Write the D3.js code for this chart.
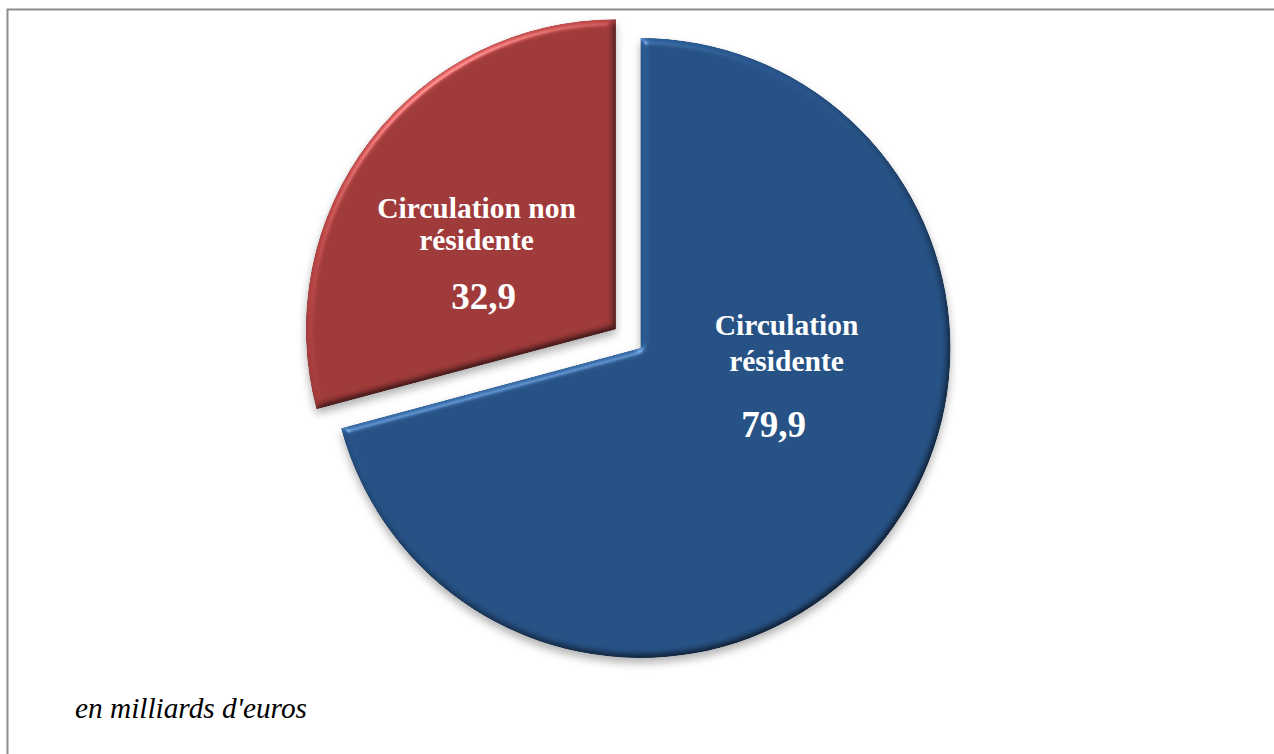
<!DOCTYPE html>
<html>
<head>
<meta charset="utf-8">
<script src="https://cdn.jsdelivr.net/npm/d3@7/dist/d3.min.js"></script>
<style>
  html, body { margin: 0; padding: 0; background: #fff; }
  svg { display: block; }
</style>
</head>
<body>
<svg id="chart" width="1274" height="754"></svg>
<script>
// ---- Data ----
const categories = ["Circulation résidente", "Circulation non résidente"];
const labelLines = [["Circulation", "résidente"], ["Circulation non", "résidente"]];
const values = [79.9, 32.9];
const valueLabels = ["79,9", "32,9"];
const colors = ["#265184", "#9F3A3A"];
const exploded = [false, true];
const note = "en milliards d'euros";

// ---- Layout ----
const W = 1274, H = 754;
const cx = 640.5, cy = 348, R = 310, explode = 31;

const svg = d3.select("#chart");
const defs = svg.append("defs");

// bevel + shadow filter
const f = defs.append("filter").attr("id", "bevel")
  .attr("x", "-10%").attr("y", "-10%").attr("width", "120%").attr("height", "125%")
  .attr("color-interpolation-filters", "sRGB");
f.append("feGaussianBlur").attr("in", "SourceAlpha").attr("stdDeviation", 3.5).attr("result", "blur");
const dl = f.append("feDiffuseLighting").attr("in", "blur").attr("surfaceScale", 3)
  .attr("diffuseConstant", 1).attr("lighting-color", "#fff").attr("result", "diff");
dl.append("feDistantLight").attr("azimuth", 235).attr("elevation", 55);
f.append("feComposite").attr("in", "SourceGraphic").attr("in2", "diff")
  .attr("operator", "arithmetic").attr("k1", 1.22).attr("k2", 0).attr("k3", 0).attr("k4", 0).attr("result", "lit");
const sp = f.append("feSpecularLighting").attr("in", "blur").attr("surfaceScale", 5)
  .attr("specularConstant", 0.6).attr("specularExponent", 30).attr("lighting-color", "#fff").attr("result", "spec");
sp.append("feDistantLight").attr("azimuth", 235).attr("elevation", 30);
f.append("feComposite").attr("in", "spec").attr("in2", "SourceAlpha").attr("operator", "in").attr("result", "specIn");
f.append("feComposite").attr("in", "lit").attr("in2", "specIn")
  .attr("operator", "arithmetic").attr("k1", 0).attr("k2", 1).attr("k3", 0.5).attr("k4", 0).attr("result", "bev");
f.append("feComposite").attr("in", "bev").attr("in2", "SourceAlpha").attr("operator", "in").attr("result", "bevIn");
f.append("feGaussianBlur").attr("in", "SourceAlpha").attr("stdDeviation", 4).attr("result", "sblur");
f.append("feOffset").attr("in", "sblur").attr("dx", 0).attr("dy", 5).attr("result", "soff");
f.append("feFlood").attr("flood-color", "#000").attr("flood-opacity", 0.3).attr("result", "scol");
f.append("feComposite").attr("in", "scol").attr("in2", "soff").attr("operator", "in").attr("result", "shadow");
const m = f.append("feMerge");
m.append("feMergeNode").attr("in", "shadow");
m.append("feMergeNode").attr("in", "bevIn");

// border
svg.append("rect").attr("x", 7.5).attr("y", 9.5).attr("width", 1400).attr("height", 900)
  .attr("fill", "none").attr("stroke", "#8c8c8c").attr("stroke-width", 2);

const pie = d3.pie().sort(null).value(d => d)(values);
const arc = d3.arc().innerRadius(0).outerRadius(R);

const g = svg.append("g").attr("transform", `translate(${cx},${cy})`);

const slices = g.selectAll("g.slice").data(pie).enter().append("g")
  .attr("class", "slice")
  .attr("transform", (d, i) => {
    if (!exploded[i]) return null;
    const a = (d.startAngle + d.endAngle) / 2;
    return `translate(${Math.sin(a) * explode},${-Math.cos(a) * explode})`;
  });

slices.append("path")
  .attr("d", arc)
  .attr("fill", (d, i) => colors[i])
  .attr("filter", "url(#bevel)");

// labels (positions relative to pie center)
const labelPos = [
  { x: 146, y: -13, lh: 36, vx: 133, vy: 89 },
  { x: -164, y: -130, lh: 32, vx: -157, vy: -39 }
];
slices.each(function (d, i) {
  const s = d3.select(this);
  const off = exploded[i] ? (() => { const a = (d.startAngle + d.endAngle) / 2; return [Math.sin(a) * explode, -Math.cos(a) * explode]; })() : [0, 0];
  const p = labelPos[i];
  labelLines[i].forEach((ln, k) => {
    s.append("text")
      .attr("x", p.x - off[0]).attr("y", p.y + k * p.lh - off[1])
      .attr("text-anchor", "middle")
      .attr("font-family", "'Liberation Serif', 'Times New Roman', serif")
      .attr("font-weight", "bold").attr("font-size", 29.5)
      .attr("fill", "#fff")
      .text(ln);
  });
  s.append("text")
    .attr("x", p.vx - off[0]).attr("y", p.vy - off[1])
    .attr("text-anchor", "middle")
    .attr("font-family", "'Liberation Serif', 'Times New Roman', serif")
    .attr("font-weight", "bold").attr("font-size", 37)
    .attr("fill", "#fff")
    .text(valueLabels[i]);
});

svg.append("text")
  .attr("x", 75).attr("y", 718)
  .attr("font-family", "'Liberation Serif', 'Times New Roman', serif")
  .attr("font-style", "italic").attr("font-size", 29.3)
  .attr("fill", "#000")
  .text(note);
</script>
</body>
</html>
